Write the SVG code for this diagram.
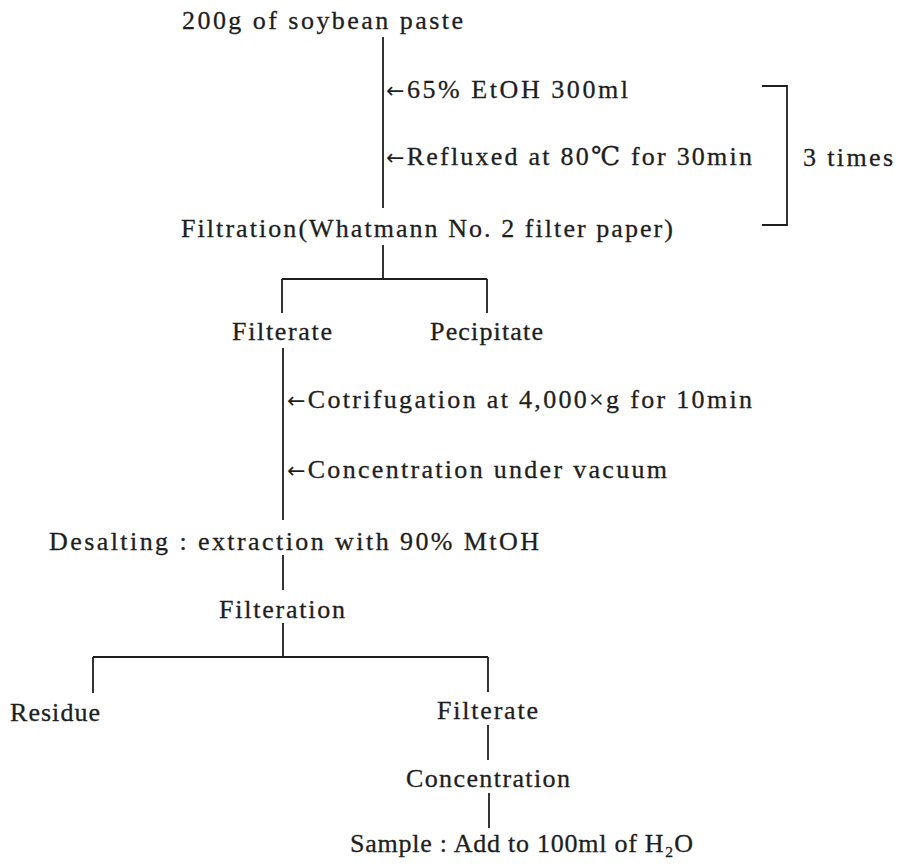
<svg xmlns="http://www.w3.org/2000/svg" width="899" height="866" viewBox="0 0 899 866">
<style>
.t{font-family:"Liberation Serif","DejaVu Serif",serif;font-size:26px;fill:#1e1e1e;stroke:#1e1e1e;stroke-width:0.3;}
.a{font-family:"DejaVu Sans",sans-serif;font-size:22px;stroke-width:0;}
.c{stroke:#1e1e1e;stroke-width:1.8;fill:none;}
</style>
<rect width="899" height="866" fill="#ffffff"/>
<g id="connectors">
<path class="c" d="M383 37V208"/>
<path class="c" d="M383 245V279M282 279H487M282 279V313M487 279V313"/>
<path class="c" d="M283 348V520"/>
<path class="c" d="M283 555V590"/>
<path class="c" d="M283 623V657M93 657H488M93 657V693M488 657V692"/>
<path class="c" d="M488 725V760"/>
<path class="c" d="M489 793V828"/>
<path class="c" d="M762 86H787V225H762"/>
</g>
<g id="n-start"><text class="t" x="182" y="29" textLength="281">200g of soybean paste</text></g>
<g id="n-etoh"><text class="t" x="386" y="98" textLength="242"><tspan class="a">←</tspan>65% EtOH 300ml</text></g>
<g id="n-reflux"><text class="t" x="386" y="165" textLength="366"><tspan class="a">←</tspan>Refluxed at 80℃ for 30min</text></g>
<g id="n-times"><text class="t" x="803" y="166" textLength="90">3 times</text></g>
<g id="n-filtration"><text class="t" x="181" y="237" textLength="492">Filtration(Whatmann No. 2 filter paper)</text></g>
<g id="n-filterate1"><text class="t" x="232" y="340" textLength="100">Filterate</text></g>
<g id="n-precipitate"><text class="t" x="430" y="340" textLength="113">Pecipitate</text></g>
<g id="n-centrifuge"><text class="t" x="287" y="408" textLength="465"><tspan class="a">←</tspan>Cotrifugation at 4,000×g for 10min</text></g>
<g id="n-vacuum"><text class="t" x="287" y="478" textLength="380"><tspan class="a">←</tspan>Concentration under vacuum</text></g>
<g id="n-desalting"><text class="t" x="49" y="550" textLength="490">Desalting : extraction with 90% MtOH</text></g>
<g id="n-filteration"><text class="t" x="219" y="618" textLength="126">Filteration</text></g>
<g id="n-residue"><text class="t" x="10" y="721" textLength="90">Residue</text></g>
<g id="n-filterate2"><text class="t" x="437" y="719" textLength="101">Filterate</text></g>
<g id="n-concentration"><text class="t" x="406" y="787" textLength="164">Concentration</text></g>
<g id="n-sample"><text class="t" x="350" y="852" textLength="343">Sample : Add to 100ml of H₂O</text></g>
</svg>
